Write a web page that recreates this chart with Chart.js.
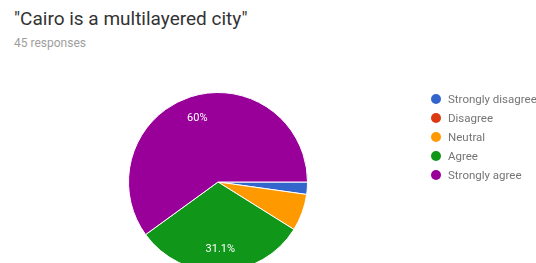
<!DOCTYPE html>
<html>
<head>
<meta charset="utf-8">
<script src="https://cdn.jsdelivr.net/npm/chart.js@4/dist/chart.umd.min.js"></script>
<style>
  html,body{margin:0;padding:0;background:#fff;width:536px;height:263px;overflow:hidden;font-family:Roboto,Arial,sans-serif;}
  #title{position:absolute;left:14px;top:7px;font-size:19px;color:#333;white-space:nowrap;}
  #sub{position:absolute;left:14px;top:36px;font-size:12px;color:#9e9e9e;white-space:nowrap;}
  #wrap{position:absolute;left:0;top:0;width:536px;height:290px;}
  #legend{position:absolute;left:431px;top:89px;margin:0;padding:0;list-style:none;}
  #legend li{height:19px;line-height:16px;font-size:11.5px;color:#757575;white-space:nowrap;display:flex;align-items:center;}
  #legend span.dot{display:inline-block;width:10px;height:10px;border-radius:50%;margin-right:7px;}
</style>
</head>
<body>
<div id="title">"Cairo is a multilayered city"</div>
<div id="sub">45 responses</div>
<div id="wrap"><canvas id="c"></canvas></div>
<ul id="legend"></ul>
<script>
const categories = ["Strongly disagree", "Disagree", "Neutral", "Agree", "Strongly agree"];
const counts = [1, 0, 3, 14, 27];
const colors = ["#3366cc", "#dc3912", "#ff9900", "#109618", "#990099"];

const total = counts.reduce((a, b) => a + b, 0);

const leg = document.getElementById('legend');
categories.forEach((c, i) => {
  const li = document.createElement('li');
  const d = document.createElement('span');
  d.className = 'dot';
  d.style.background = colors[i];
  li.appendChild(d);
  li.appendChild(document.createTextNode(c));
  leg.appendChild(li);
});

const pctLabels = {
  id: 'pctLabels',
  afterDatasetsDraw(chart) {
    const ctx = chart.ctx;
    const meta = chart.getDatasetMeta(0);
    ctx.save();
    ctx.fillStyle = '#ffffff';
    ctx.font = '11px Roboto, Arial, sans-serif';
    ctx.textAlign = 'center';
    ctx.textBaseline = 'middle';
    meta.data.forEach((arc, i) => {
      const v = counts[i];
      const frac = v / total;
      if (frac < 0.1) return;
      const mid = (arc.startAngle + arc.endAngle) / 2;
      const r = arc.outerRadius * 0.75;
      const x = arc.x + Math.cos(mid) * r;
      const y = arc.y + Math.sin(mid) * r;
      let t = (Math.round(frac * 1000) / 10).toString() + '%';
      ctx.fillText(t, x, y);
    });
    ctx.restore();
  }
};

new Chart(document.getElementById('c'), {
  type: 'pie',
  data: {
    labels: categories,
    datasets: [{
      data: counts,
      backgroundColor: colors,
      borderColor: '#ffffff',
      borderWidth: 1
    }]
  },
  options: {
    responsive: true,
    maintainAspectRatio: false,
    animation: false,
    rotation: 90,
    layout: { padding: { left: 128, right: 228, top: 92, bottom: 18 } },
    plugins: { legend: { display: false }, tooltip: { enabled: false } }
  },
  plugins: [pctLabels]
});
</script>
</body>
</html>
